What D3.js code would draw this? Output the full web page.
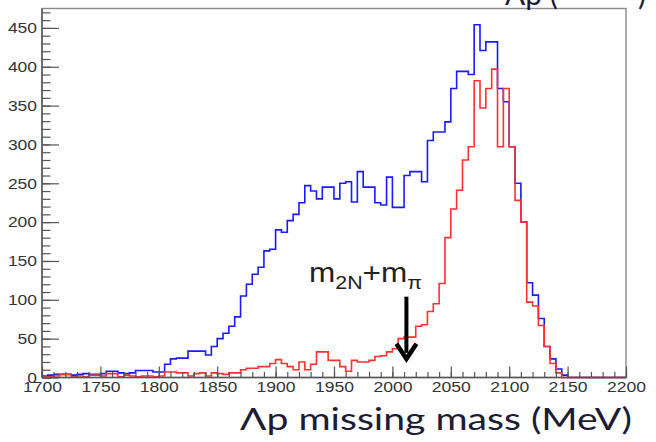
<!DOCTYPE html>
<html><head><meta charset="utf-8">
<script src="https://cdn.jsdelivr.net/npm/d3@7"></script>
<style>body{margin:0;background:#fff;} svg{display:block;}</style>
</head><body>
<svg id="c" width="656" height="442"></svg>
<script>
// ---- data ----
const xTickLabels = [1700,1750,1800,1850,1900,1950,2000,2050,2100,2150,2200];
const yTickLabels = [0,50,100,150,200,250,300,350,400,450];
const binLow = 1700, binWidth = 5;   // histogram binning (MeV)
const blueCounts = [
  2,3,4,4,4,3,4,5,4,4,
  5,8,8,6,5,6,9,9,9,7,
  7,17,24,25,25,34,34,34,29,40,
  50,57,66,78,105,120,133,142,163,165,
  190,187,202,210,225,247,240,230,245,245,
  230,250,252,226,265,245,245,225,222,258,
  219,219,260,265,265,252,305,316,316,329,
  372,394,394,390,454,421,432,432,372,355,
  297,250,200,122,106,76,40,24,11,3,
  0,0,0,0,0,0,0,0,0,0
];
const redCounts = [
  1,1,2,4,4,1,2,1,3,3,
  2,5,5,1,3,2,1,2,2,1,
  2,7,7,6,6,2,5,6,2,6,
  5,4,6,6,10,12,12,14,14,18,
  23,18,14,10,20,10,17,33,33,22,
  22,14,8,22,20,20,22,27,28,33,
  37,50,52,52,66,68,85,95,121,180,
  217,241,280,297,382,347,372,397,297,372,
  297,228,200,97,92,67,40,18,6,0,
  0,0,0,0,0,0,0,0,0,0
];
const arrowMass = 2012, arrowFrom = 104, arrowTo = 24;

// ---- layout ----
const svg = d3.select("#c");
const x = d3.scaleLinear().domain([1700,2200]).range([42,626]);
const y = d3.scaleLinear().domain([0,475]).range([377.5,8.5]);
const labelFont = "'Liberation Sans', Arial, sans-serif";

// frame
svg.append("rect").attr("x",x(1700)).attr("y",y(475)).attr("width",x(2200)-x(1700)).attr("height",y(0)-y(475))
  .attr("fill","none").attr("stroke","#8a8a8a").attr("stroke-width",1.4);

// histograms
function histPath(counts){
  const pts = counts.map((c,i)=>[binLow+i*binWidth, c]);
  pts.push([binLow+counts.length*binWidth, counts[counts.length-1]]);
  return d3.line().x(d=>x(d[0])).y(d=>y(d[1])).curve(d3.curveStepAfter)(pts);
}
svg.append("path").attr("d",histPath(blueCounts)).attr("fill","none").attr("stroke","#1a1aff").attr("stroke-width",1.6);
svg.append("path").attr("d",histPath(redCounts)).attr("fill","none").attr("stroke","#ff3030").attr("stroke-width",1.6);

// y axis
const yMinor = d3.range(0,471,10);
const yMin = svg.append("g").attr("transform",`translate(${x(1700)},0)`)
  .call(d3.axisLeft(y).tickValues(yMinor).tickSize(-8.5).tickFormat("").tickSizeOuter(0));
const yMaj = svg.append("g").attr("transform",`translate(${x(1700)},0)`)
  .call(d3.axisLeft(y).tickValues(yTickLabels).tickSize(-17).tickPadding(5).tickFormat(d3.format("d")).tickSizeOuter(0));
[yMin,yMaj].forEach(g=>{g.select(".domain").remove(); g.selectAll("line").attr("stroke","#555").attr("stroke-width",1.2);});
yMaj.selectAll("text").attr("font-family",labelFont).attr("font-size",15).attr("fill","#333")
  .attr("textLength",d=>String(d).length*9.7).attr("lengthAdjust","spacingAndGlyphs");

// x axis
const xMinor = d3.range(1700,2201,10);
const xMin = svg.append("g").attr("transform",`translate(0,${y(0)})`)
  .call(d3.axisBottom(x).tickValues(xMinor).tickSize(-5.5).tickFormat("").tickSizeOuter(0));
const xMaj = svg.append("g").attr("transform",`translate(0,${y(0)})`)
  .call(d3.axisBottom(x).tickValues(xTickLabels).tickSize(-11).tickPadding(4).tickFormat(d3.format("d")).tickSizeOuter(0));
[xMin,xMaj].forEach(g=>{g.select(".domain").remove(); g.selectAll("line").attr("stroke","#555").attr("stroke-width",1.2);});
xMaj.selectAll("text").attr("font-family",labelFont).attr("font-size",15).attr("fill","#333")
  .attr("textLength",39).attr("lengthAdjust","spacingAndGlyphs");

// axis lines
svg.append("line").attr("x1",x(1700)).attr("x2",x(1700)).attr("y1",y(475)).attr("y2",y(0)).attr("stroke","#555").attr("stroke-width",1.4);
svg.append("line").attr("x1",x(1700)).attr("x2",x(2200)).attr("y1",y(0)).attr("y2",y(0)).attr("stroke","#555").attr("stroke-width",1.4);

// axis title
svg.append("text").attr("x",240).attr("y",430).attr("font-family","Lato, 'Open Sans', sans-serif")
  .attr("font-size",31).attr("fill","#1c1c36").attr("textLength",392).attr("lengthAdjust","spacingAndGlyphs")
  .text("Λp missing mass (MeV)");

// clipped title fragment at top
svg.append("text").attr("x",505).attr("y",5).attr("font-family","Lato, sans-serif").attr("font-size",30).attr("fill","#1c1c36").text("Λp (");
svg.append("text").attr("x",638).attr("y",5).attr("font-family","Lato, sans-serif").attr("font-size",30).attr("fill","#1c1c36").text(")");

// annotation
const ann = svg.append("text").attr("x",309).attr("y",282).attr("font-family",labelFont).attr("fill","#222").attr("font-size",28)
  .attr("textLength",113).attr("lengthAdjust","spacingAndGlyphs");
ann.append("tspan").text("m");
ann.append("tspan").attr("font-size",19).attr("dy",7).text("2N");
ann.append("tspan").attr("dy",-7).text("+m");
ann.append("tspan").attr("font-size",19).attr("dy",7).text("π");

const ax = x(arrowMass);
svg.append("line").attr("x1",ax).attr("x2",ax).attr("y1",y(arrowFrom)).attr("y2",y(arrowTo)-6)
  .attr("stroke","#000").attr("stroke-width",4);
svg.append("path").attr("d",`M${ax-10},${y(arrowTo)-15} L${ax},${y(arrowTo)} L${ax+10},${y(arrowTo)-15}`)
  .attr("fill","none").attr("stroke","#000").attr("stroke-width",4.5).attr("stroke-linejoin","miter");
</script>
</body></html>
